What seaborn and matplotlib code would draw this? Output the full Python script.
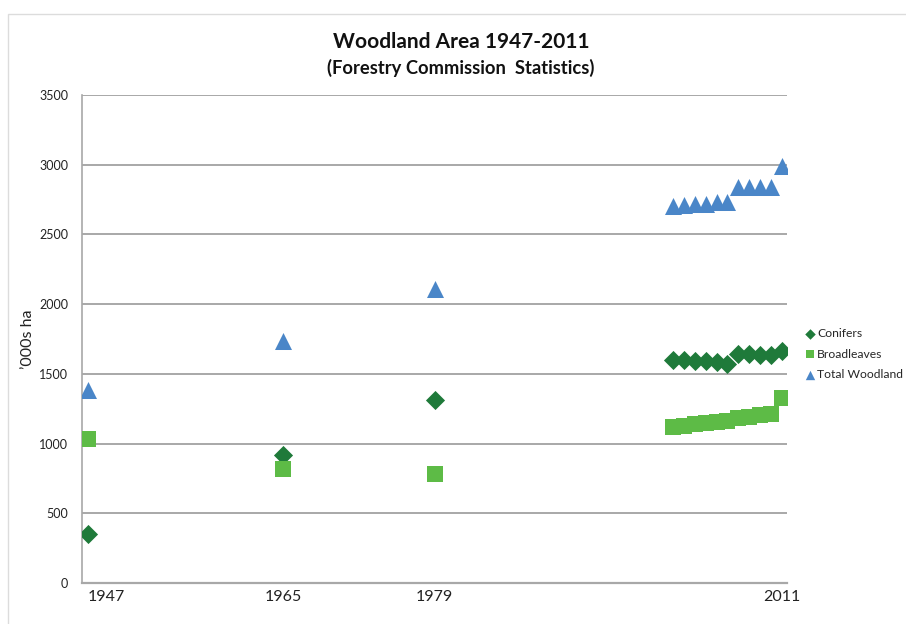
import matplotlib
matplotlib.use("Agg")
import matplotlib.pyplot as plt
import matplotlib.patches as mpatches
import seaborn as sns
import pandas as pd

# ---- data ----
years = [1947, 1965, 1979, 2001, 2002, 2003, 2004, 2005, 2006, 2007, 2008, 2009, 2010, 2011]
conifers = [349, 919, 1314, 1601, 1596, 1594, 1589, 1584, 1570, 1644, 1642, 1632, 1637, 1665]
broadleaves = [1034, 816, 782, 1122, 1129, 1139, 1146, 1154, 1163, 1182, 1194, 1206, 1211, 1326]
total = [1385, 1737, 2108, 2701, 2713, 2718, 2720, 2730, 2730, 2842, 2843, 2843, 2842, 2989]
series_names = ["Conifers", "Broadleaves", "Total Woodland"]
xtick_years = [1947, 1965, 1979, 2011]
ytick_vals = [0, 500, 1000, 1500, 2000, 2500, 3000, 3500]
title = "Woodland Area 1947-2011"
subtitle = "(Forestry Commission  Statistics)"
ylabel = "\u2019000s ha"

colors = {"Conifers": "#1f7a3a", "Broadleaves": "#5dbb46", "Total Woodland": "#4a86c8"}
markers = {"Conifers": "D", "Broadleaves": "s", "Total Woodland": "^"}
msizes = {"Conifers": 95, "Broadleaves": 120, "Total Woodland": 150}

sns.set_theme(style="white")
plt.rcParams["font.family"] = ["Lato", "DejaVu Sans"]

fig = plt.figure(figsize=(9.06, 6.24), dpi=100)
ax = fig.add_axes([82 / 906, 1 - 583 / 624, (787 - 82) / 906, (583 - 95) / 624])

for name, vals in zip(series_names, [conifers, broadleaves, total]):
    df = pd.DataFrame({"year": years, "value": vals})
    sns.scatterplot(data=df, x="year", y="value", ax=ax, color=colors[name],
                    marker=markers[name], s=msizes[name], linewidth=0,
                    label=name, zorder=3)

ax.set_xlim(1946.45, 2011.5)
ax.set_ylim(0, 3500)
ax.set_yticks(ytick_vals)
ax.set_yticklabels([str(v) for v in ytick_vals], fontsize=9, color="#222222")
ax.set_xticks(xtick_years)
ax.set_xticklabels([str(v) for v in xtick_years], fontsize=11.5, color="#222222")
xl = ax.get_xticklabels()
xl[0].set_ha("left")
ax.tick_params(axis="y", length=0, pad=10)
ax.tick_params(axis="x", length=0, pad=5)
ax.set_xlabel("")
ax.set_ylabel(ylabel, fontsize=11.5, color="#222222", labelpad=3)

ax.grid(axis="y", color="#a8a8a8", linewidth=1.4, zorder=0)
ax.grid(axis="x", visible=False)
for side in ["top", "right"]:
    ax.spines[side].set_visible(False)
ax.spines["left"].set_color("#a8a8a8")
ax.spines["left"].set_linewidth(1.2)
ax.spines["bottom"].set_color("#a8a8a8")
ax.spines["bottom"].set_linewidth(1.6)

leg = ax.legend(loc="center left", bbox_to_anchor=(799 / 906, 1 - 354 / 624),
                bbox_transform=fig.transFigure, frameon=False, fontsize=8.7,
                handletextpad=0.1, labelspacing=0.8, markerscale=0.55,
                handlelength=1.0, borderaxespad=0)

fig.text(461 / 906, 1 - 42 / 624, title, ha="center", va="center", fontsize=15,
         fontweight="bold", color="#111111")
fig.text(461 / 906, 1 - 68 / 624, subtitle, ha="center", va="center", fontsize=13.2,
         fontweight="bold", color="#111111")

fig.patches.append(mpatches.Rectangle((8 / 906, -0.1), 1.2, (1 - 14 / 624) + 0.1,
                                      transform=fig.transFigure, fill=False,
                                      edgecolor="#dcdcdc", linewidth=1.0))

fig.savefig("out.png", dpi=100)
